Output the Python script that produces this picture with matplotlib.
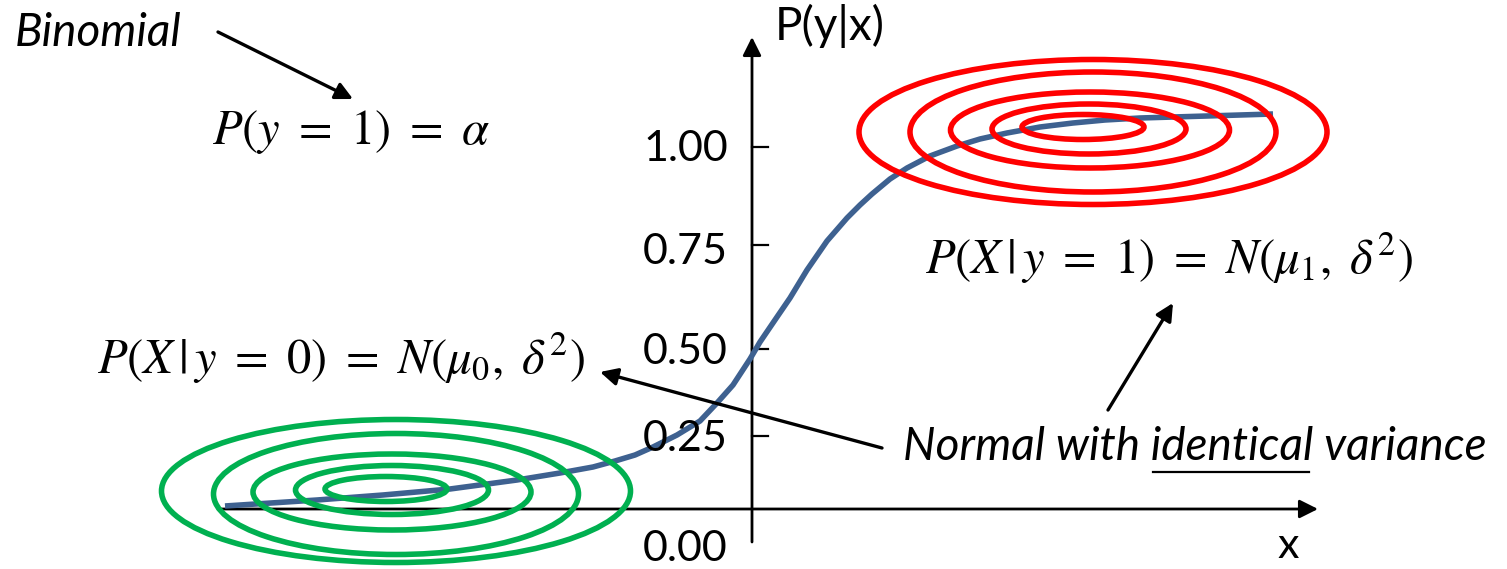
import matplotlib
matplotlib.use("Agg")
import matplotlib.pyplot as plt
from matplotlib.patches import Ellipse

# diagram coordinates are in picture pixels (origin top-left)
curve_x = [225, 317, 383, 450, 517, 560, 593, 615, 635, 653, 677, 700, 717, 733,
           750, 760, 777, 790, 807, 827, 847, 860, 872, 890, 907, 930, 957, 980,
           1007, 1040, 1073, 1105, 1140, 1207, 1273]
curve_y = [506, 500, 495, 489, 480, 473, 467, 461, 455, 447, 435, 421, 403, 385,
           359, 342, 317, 298, 270, 241, 218, 205, 194, 179, 168, 156, 146, 139,
           133, 127, 123, 120, 118, 116, 114]

tick_labels = ["1.00", "0.75", "0.50", "0.25", "0.00"]
tick_y = [147, 245, 349, 436]
label_y = [149, 252, 352, 439, 549]

# concentric contours: centre x, centre y, width, height
green_cx = [396, 396, 392, 392, 386]
green_cy = [491, 494, 492, 490, 489]
green_w = [469, 365, 278, 193, 122]
green_h = [143, 121, 76, 49, 25]

red_cx = [1093, 1093, 1090, 1089, 1083]
red_cy = [132, 132, 130, 129, 127]
red_w = [468, 366, 279, 194, 122]
red_h = [145, 120, 76, 50, 25]

BLUE = "#3E6190"
GREEN = "#00B050"
RED = "#FF0000"

plt.rcParams["mathtext.fontset"] = "stix"

fig = plt.figure(figsize=(15.07, 5.69), dpi=100)
ax = fig.add_axes([0, 0, 1, 1])
ax.set_xlim(0, 1507)
ax.set_ylim(569, 0)
ax.axis("off")

ax_arrow = dict(arrowstyle="-|>", color="black", lw=2.0, mutation_scale=28,
                shrinkA=0, shrinkB=0)
# axes
ax.annotate("", xy=(1318, 509), xytext=(218, 509), arrowprops=ax_arrow, zorder=1)
ax.annotate("", xy=(752, 37), xytext=(752, 542), arrowprops=ax_arrow, zorder=1)
for ty in tick_y:
    ax.plot([752, 768], [ty, ty], color="black", lw=1.6, zorder=1)
for lab, ly in zip(tick_labels, label_y):
    ax.text(728, ly, lab, ha="right", va="center", fontsize=31, family="Lato")

ax.text(775, 26, "P(y|x)", ha="left", va="center", fontsize=33, family="Lato")
ax.text(1288, 546, "x", ha="center", va="center", fontsize=31, family="Lato")

# logistic curve
ax.plot(curve_x, curve_y, color=BLUE, lw=4.0, solid_capstyle="butt",
        solid_joinstyle="round", zorder=2)

for cx, cy, w, h in zip(green_cx, green_cy, green_w, green_h):
    ax.add_patch(Ellipse((cx, cy), w, h, fill=False, ec=GREEN, lw=4.0, zorder=3))
for cx, cy, w, h in zip(red_cx, red_cy, red_w, red_h):
    ax.add_patch(Ellipse((cx, cy), w, h, fill=False, ec=RED, lw=4.0, zorder=3))

# equations
ax.text(212, 132, r"$P(y\ =\ 1)\ =\ \alpha$", ha="left", va="center", fontsize=35)
ax.text(97, 358, r"$P(X\,|\,y\ =\ 0)\ =\ N(\mu_0,\ \delta^2)$", ha="left", va="center", fontsize=35)
ax.text(925, 258, r"$P(X\,|\,y\ =\ 1)\ =\ N(\mu_1,\ \delta^2)$", ha="left", va="center", fontsize=35)

ax.text(15, 33, "Binomial", ha="left", va="center", fontsize=33, family="Lato", style="italic")

arr = dict(arrowstyle="-|>", color="black", lw=2.4, mutation_scale=26,
           shrinkA=0, shrinkB=0)
ax.annotate("", xy=(353, 99), xytext=(218, 32), arrowprops=arr, zorder=4)
ax.annotate("", xy=(600, 372), xytext=(882, 448), arrowprops=arr, zorder=4)
ax.annotate("", xy=(1173, 303), xytext=(1108, 410), arrowprops=arr, zorder=4)

# "Normal with identical variance" with underlined word
tx, ty_ = 903, 447
full = "Normal with identical variance"
t = ax.text(tx, ty_, full, ha="left", va="center", fontsize=33, family="Lato", style="italic")
fig.canvas.draw()
r = fig.canvas.get_renderer()


def width_px(s):
    tmp = ax.text(0, 0, s, fontsize=33, family="Lato", style="italic")
    w = tmp.get_window_extent(r).width
    tmp.remove()
    return w


bb = t.get_window_extent(r)
w_full = bb.width
x0 = bb.x0 + w_full - width_px("identical variance")
x1 = bb.x0 + w_full - (width_px("x variance") - width_px("x"))
inv = ax.transData.inverted()
ux0 = inv.transform((x0, 0))[0]
ux1 = inv.transform((x1, 0))[0]
ax.plot([ux0 + 2, ux1 - 4], [472, 472], color="black", lw=1.6)

fig.savefig("out.png", dpi=100)
